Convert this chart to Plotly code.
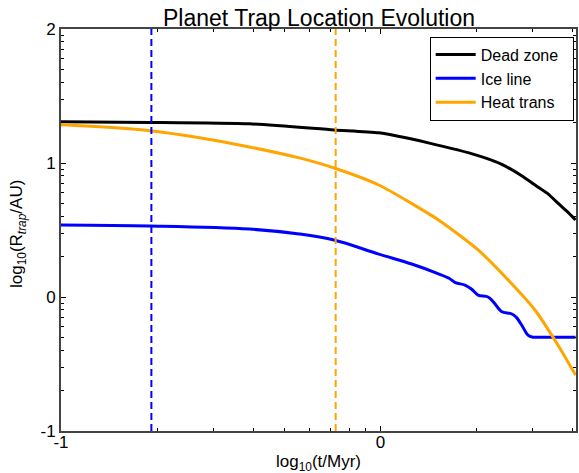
import plotly.graph_objects as go

# Data (log10 values)
dz_logt = [-1.0, -0.722, -0.41, -0.145, -0.005, 0.15, 0.306, 0.38, 0.446, 0.493, 0.525, 0.555, 0.586, 0.611]
dz_logr = [1.307, 1.303, 1.292, 1.247, 1.225, 1.150, 1.055, 0.99, 0.90, 0.821, 0.77, 0.702, 0.635, 0.575]

ice_logt = [-1.0, -0.722, -0.41, -0.254, -0.145, -0.005, 0.098, 0.18, 0.215, 0.235, 0.265, 0.285, 0.306,
            0.337, 0.355, 0.379, 0.410, 0.425, 0.445, 0.462, 0.478, 0.50, 0.611]
ice_logr = [0.537, 0.530, 0.507, 0.470, 0.425, 0.320, 0.246, 0.175, 0.14, 0.108, 0.089, 0.06, 0.014,
            0.000, -0.04, -0.108, -0.125, -0.15, -0.22, -0.285, -0.300, -0.300, -0.300]

ht_logt = [-1.0, -0.878, -0.722, -0.566, -0.41, -0.254, -0.145, -0.005, 0.182, 0.306, 0.409, 0.484, 0.562, 0.611]
ht_logr = [1.285, 1.270, 1.240, 1.188, 1.120, 1.038, 0.963, 0.836, 0.575, 0.351, 0.105, -0.097, -0.382, -0.582]

ice_vline_logt = -0.717
ht_vline_logt = -0.140

x_major = [0.1, 1]
x_major_text = ["-1", "0"]
y_major = [0.1, 1, 10, 100]
y_major_text = ["-1", "0", "1", "2"]
x_range_log = [-1, 0.6125]
y_range_log = [-1, 2]

x_minor = [k * 0.1 for k in range(2, 10)] + [2, 3, 4]
y_minor = [k * 10.0 ** d for d in (-1, 0, 1) for k in range(2, 10)]

BLUE = "#0000ff"
ORANGE = "#ffa500"
PAD = "\u00a0\u00a0"

fig = go.Figure()
fig.add_trace(go.Scatter(x=[10 ** v for v in dz_logt], y=[10 ** v for v in dz_logr], mode="lines",
                         name="Dead zone" + PAD, line=dict(color="black", width=3, shape="spline", smoothing=0.6)))
fig.add_trace(go.Scatter(x=[10 ** v for v in ice_logt], y=[10 ** v for v in ice_logr], mode="lines",
                         name="Ice line" + PAD, line=dict(color=BLUE, width=3, shape="spline", smoothing=1.0)))
fig.add_trace(go.Scatter(x=[10 ** v for v in ht_logt], y=[10 ** v for v in ht_logr], mode="lines",
                         name="Heat trans" + PAD, line=dict(color=ORANGE, width=3, shape="spline", smoothing=0.6)))

for lt, col in [(ice_vline_logt, BLUE), (ht_vline_logt, ORANGE)]:
    fig.add_trace(go.Scatter(x=[10 ** lt, 10 ** lt], y=[10 ** y_range_log[0], 10 ** y_range_log[1]],
                             mode="lines", showlegend=False,
                             line=dict(color=col, width=2, dash="7px,4px")))

axis_common = dict(type="log", showgrid=False, zeroline=False, showline=True, linecolor="#444",
                   linewidth=2, mirror="allticks", ticks="inside", ticklen=5, tickwidth=1,
                   tickcolor="black", tickfont=dict(family="Liberation Sans, Arial", size=17, color="black"))

fig.update_layout(
    width=579, height=473,
    margin=dict(l=61, r=1, t=29, b=42),
    paper_bgcolor="white", plot_bgcolor="white",
    title=dict(text="Planet Trap Location Evolution", x=0.551, xanchor="center", y=0.962, yanchor="middle",
               font=dict(family="Liberation Sans, Arial", size=23, color="black")),
    xaxis=dict(**axis_common, range=x_range_log, tickmode="array", tickvals=x_major, ticktext=x_major_text,
               ticklabelstandoff=-5,
               minor=dict(tickvals=x_minor, ticks="inside", ticklen=3, tickcolor="black", tickwidth=1)),
    yaxis=dict(**axis_common, range=y_range_log, tickmode="array", tickvals=y_major, ticktext=y_major_text,
               minor=dict(tickvals=y_minor, ticks="inside", ticklen=3, tickcolor="black", tickwidth=1)),
    legend=dict(x=0.9955, y=0.981, xanchor="right", yanchor="top", bgcolor="white",
                bordercolor="black", borderwidth=1, itemwidth=40,
                font=dict(family="Liberation Sans, Arial", size=16, color="black")),
    annotations=[
        dict(text="log<sub>10</sub>(t/Myr)", xref="paper", yref="paper", x=0.5, y=0, yshift=-32,
             showarrow=False, xanchor="center", yanchor="middle",
             font=dict(family="Liberation Sans, Arial", size=17, color="black")),
        dict(text="log<sub>10</sub>(R<sub><i>trap</i></sub>/AU)", xref="paper", yref="paper", x=0, y=0.49,
             xshift=-43, textangle=-90, showarrow=False, xanchor="center", yanchor="middle",
             font=dict(family="Liberation Sans, Arial", size=17, color="black")),
    ],
)

fig.write_html("out.html", config={"displayModeBar": False},
               post_script="document.body.style.margin='0';")
